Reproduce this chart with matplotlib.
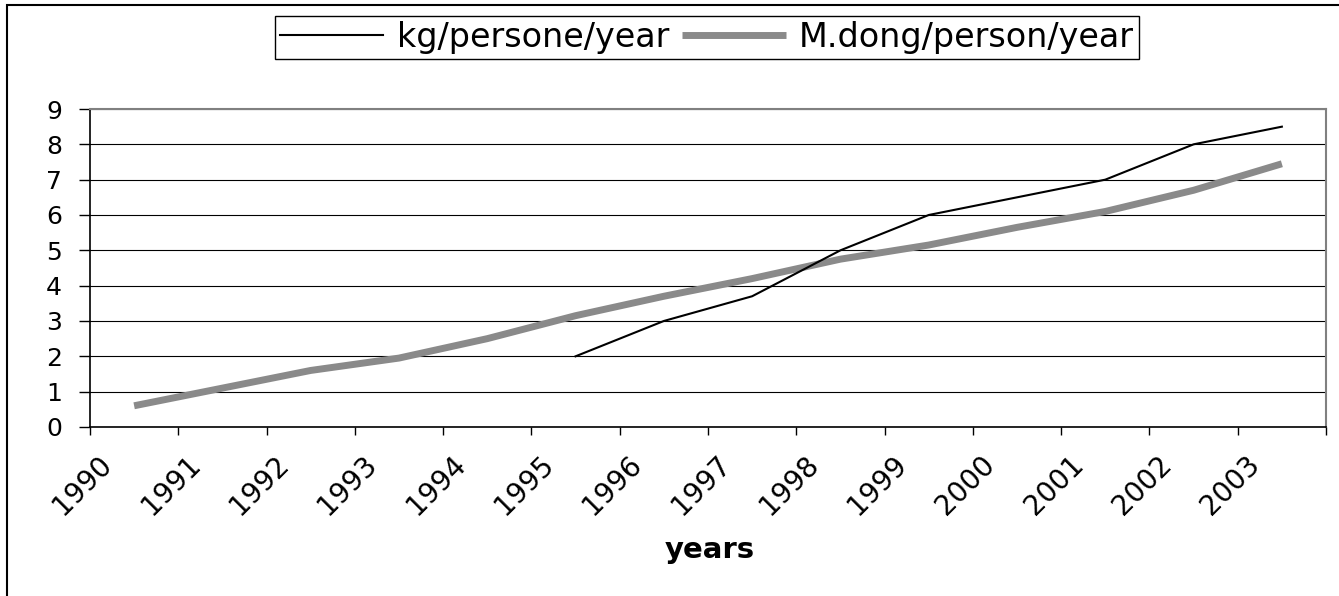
import matplotlib
matplotlib.use("Agg")
import matplotlib.pyplot as plt
from matplotlib.patches import Rectangle
from matplotlib.transforms import ScaledTranslation
import numpy as np

# data
years = [1990, 1991, 1992, 1993, 1994, 1995, 1996, 1997, 1998, 1999, 2000, 2001, 2002, 2003]
kg_person = [np.nan, np.nan, np.nan, np.nan, np.nan, 2.0, 3.0, 3.7, 5.0, 6.0, 6.5, 7.0, 8.0, 8.5]
mdong_person = [0.6, 1.1, 1.6, 1.95, 2.5, 3.15, 3.7, 4.2, 4.75, 5.15, 5.65, 6.1, 6.7, 7.45]
labels = ["kg/persone/year", "M.dong/person/year"]

plt.rcParams["font.family"] = ["DejaVu Sans"]

fig = plt.figure(figsize=(13.39, 5.96), dpi=100)
ax = fig.add_axes([0.0672, 0.2836, 0.9903 - 0.0672, 0.8171 - 0.2836])

# points sit in the middle of each year's category
x = np.array(years) + 0.5
ax.plot(x, kg_person, color="black", lw=1.5, label=labels[0], zorder=3)
ax.plot(x, mdong_person, color="#8a8a8a", lw=5, label=labels[1], zorder=2,
        solid_capstyle="butt")

ax.set_xlim(years[0], years[-1] + 1)
ax.set_ylim(0, 9)
ax.set_yticks(range(0, 10))
ax.set_xticks(range(years[0], years[-1] + 2))
ax.set_xticklabels([str(y) for y in years] + [""], rotation=45, ha="right",
                   va="top", rotation_mode="anchor")
ax.tick_params(axis="x", direction="out", length=6, width=1, pad=11, labelsize=20)
ax.tick_params(axis="y", direction="out", length=8, width=1, pad=12, labelsize=18)

# nudge the rotated year labels a little to the right, like the reference
shift = ScaledTranslation(8 / 100, 0, fig.dpi_scale_trans)
for lbl in ax.get_xticklabels():
    lbl.set_transform(lbl.get_transform() + shift)

ax.grid(axis="y", color="black", lw=0.8)
ax.set_axisbelow(True)
for side in ["left", "bottom"]:
    ax.spines[side].set_color("black")
    ax.spines[side].set_linewidth(1.2)
for side in ["right", "top"]:
    ax.spines[side].set_color("#808080")
    ax.spines[side].set_linewidth(1.5)

fig.text(710 / 1339, 1 - 550 / 596, "years", ha="center", va="center",
         fontsize=21, fontweight="bold")

leg = fig.legend(loc="center", bbox_to_anchor=(707 / 1339, 1 - 37 / 596), ncol=2,
                 fontsize=24, handlelength=3.1, handletextpad=0.4,
                 columnspacing=0.4, borderpad=0.15, fancybox=False,
                 edgecolor="black", framealpha=1)
leg.get_frame().set_linewidth(1)

# chart border (only left and top edges fall inside the picture)
fig.patches.append(Rectangle((0.005, -0.1), 1.2, 1.0916, transform=fig.transFigure,
                             fill=False, edgecolor="black", lw=1.5))

fig.savefig("out.png", dpi=100)
